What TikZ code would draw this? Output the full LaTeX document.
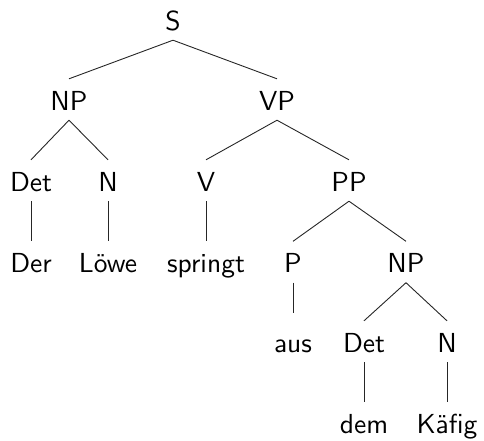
\documentclass[tikz,border=0pt]{standalone}
\usepackage{fontspec}
\newfontfamily\treefont{lmsans10-regular.otf}
\begin{document}
\begin{tikzpicture}[x=1pt,y=-1pt,
  lbl/.style={anchor=base,inner xsep=2pt,inner ysep=10pt,text height=21pt,text depth=0pt,
    font=\treefont\fontsize{27.5}{30}\selectfont},
  edge/.style={draw=black!85,line width=0.9pt}]
\useasboundingbox (0,0) rectangle (484,440);
\node[lbl] (S) at (173,30) {S};
\node[lbl] (NP) at (69,110) {NP};
\node[lbl] (VP) at (277,110) {VP};
\node[lbl] (Det) at (31,191) {Det};
\node[lbl] (N) at (108,191) {N};
\node[lbl] (V) at (206,191) {V};
\node[lbl] (PP) at (349,191) {PP};
\node[lbl] (Der) at (31,272.5) {Der};
\node[lbl] (Loewe) at (108,272.5) {Löwe};
\node[lbl] (springt) at (206,272.5) {springt};
\node[lbl] (P) at (293,272.5) {P};
\node[lbl] (NPb) at (406,272.5) {NP};
\node[lbl] (aus) at (293,352) {aus};
\node[lbl] (Detb) at (364,352) {Det};
\node[lbl] (Nb) at (447,352) {N};
\node[lbl] (dem) at (364,433) {dem};
\node[lbl] (Kaefig) at (447,433) {Käfig};
\draw[edge] (S.south) -- (NP.north);
\draw[edge] (S.south) -- (VP.north);
\draw[edge] (NP.south) -- (Det.north);
\draw[edge] (NP.south) -- (N.north);
\draw[edge] (VP.south) -- (V.north);
\draw[edge] (VP.south) -- (PP.north);
\draw[edge] (Det.south) -- (Der.north);
\draw[edge] (N.south) -- (Loewe.north);
\draw[edge] (V.south) -- (springt.north);
\draw[edge] (PP.south) -- (P.north);
\draw[edge] (PP.south) -- (NPb.north);
\draw[edge] (P.south) -- ([yshift=8pt]aus.north);
\draw[edge] (NPb.south) -- (Detb.north);
\draw[edge] (NPb.south) -- (Nb.north);
\draw[edge] (Detb.south) -- (dem.north);
\draw[edge] (Nb.south) -- (Kaefig.north);
\end{tikzpicture}
\end{document}
